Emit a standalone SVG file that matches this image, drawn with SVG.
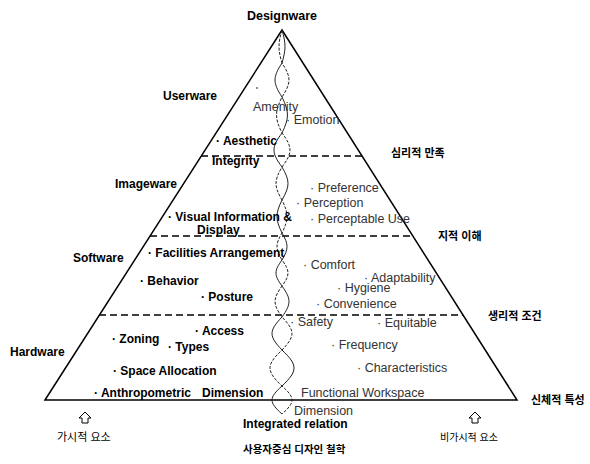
<svg xmlns="http://www.w3.org/2000/svg" width="590" height="464" viewBox="0 0 590 464">
<style>
text{font-family:"Liberation Sans","Noto Sans CJK KR",sans-serif;fill:#000}
.b{font-weight:bold;font-size:12px}
.r{font-size:12.5px;fill:#333}
.k{font-weight:bold;font-size:11px}
.kn{font-size:11px}
.edge{fill:none;stroke:#000;stroke-width:1.5}
.dash{fill:none;stroke:#000;stroke-width:1.4;stroke-dasharray:7,4}
.sa{fill:none;stroke:#222;stroke-width:1}
.sb{fill:none;stroke:#222;stroke-width:1;stroke-dasharray:3,1.5}
.arr{fill:#fff;stroke:#000;stroke-width:1}
</style>
<rect width="590" height="464" fill="#fff"/>
<g id="pyramid">
<path class="edge" d="M45,400 L282,30 L517,400 Z"/>
<line class="dash" x1="201" y1="156" x2="362" y2="156"/>
<line class="dash" x1="150" y1="236" x2="413" y2="236"/>
<line class="dash" x1="99" y1="315" x2="463" y2="315"/>
</g>
<g id="connectors">
<path class="sa" d="M282,30 C286,43.9 286,49.1 282,63 C272.7,77.3 272.7,82.7 282,97 C289.3,112.1 289.3,117.9 282,133 C271.3,147.3 271.3,152.7 282,167 C290,180.9 290,186.1 282,200 C275.3,213.9 275.3,219.1 282,233 C288.7,244.3 288.7,248.7 282,260 C274,270.9 274,275.1 282,286 C291.3,299 291.3,304 282,317 C268.7,330.9 268.7,336.1 282,350 C298,365.1 298,370.9 282,386 C268.7,397.8 268.7,402.2 282,414"/>
<path class="sb" d="M282,30 C278,43.9 278,49.1 282,63 C291.3,77.3 291.3,82.7 282,97 C274.7,112.1 274.7,117.9 282,133 C292.7,147.3 292.7,152.7 282,167 C274,180.9 274,186.1 282,200 C288.7,213.9 288.7,219.1 282,233 C275.3,244.3 275.3,248.7 282,260 C290,270.9 290,275.1 282,286 C272.7,299 272.7,304 282,317 C295.3,330.9 295.3,336.1 282,350 C266,365.1 266,370.9 282,386 C295.3,397.8 295.3,402.2 282,414"/>
<polygon class="arr" points="85,412 91,418 88,418 88,423 82,423 82,418 79,418"/>
<polygon class="arr" points="475,412 481,418 478,418 478,423 472,423 472,418 469,418"/>
</g>
<g id="designware"><text class="b" style="font-size:12.5px" x="282" y="20" text-anchor="middle">Designware</text></g>
<g id="userware">
<text class="b" x="163" y="100">Userware</text>
<circle cx="257" cy="88" r="0.8" fill="#000"/>
<text class="r" x="253" y="111">Amenity</text>
<text class="r" x="286" y="124">· Emotion</text>
<text class="b" x="216" y="145">· Aesthetic</text>
<text class="b" x="212" y="165">Integrity</text>
<text class="k" x="391" y="157">심리적 만족</text>
</g>
<g id="imageware">
<text class="b" x="115" y="188">Imageware</text>
<text class="r" x="310" y="192">· Preference</text>
<text class="r" x="296" y="207">· Perception</text>
<text class="r" x="310" y="223">· Perceptable Use</text>
<text class="b" x="168" y="221">· Visual Information &amp;</text>
<text class="b" x="197" y="234">Display</text>
<text class="k" x="438" y="240">지적 이해</text>
</g>
<g id="software">
<text class="b" x="73" y="262">Software</text>
<text class="b" x="148" y="257">· Facilities Arrangement</text>
<text class="b" x="140" y="285">· Behavior</text>
<text class="b" x="201" y="301">· Posture</text>
<text class="r" x="303" y="269">· Comfort</text>
<text class="r" x="364" y="282">· Adaptability</text>
<text class="r" x="337" y="292">· Hygiene</text>
<text class="r" x="316" y="308">· Convenience</text>
<text class="k" x="488" y="320">생리적 조건</text>
</g>
<g id="hardware">
<text class="b" x="10" y="356">Hardware</text>
<text class="b" x="195" y="335">· Access</text>
<text class="b" x="112" y="343">· Zoning</text>
<text class="b" x="168" y="351">· Types</text>
<text class="b" x="113" y="375">· Space Allocation</text>
<text class="b" x="94" y="397">· Anthropometric</text>
<text class="b" x="202" y="397">Dimension</text>
<text class="r" x="290" y="326">· Safety</text>
<text class="r" x="377" y="327">· Equitable</text>
<text class="r" x="331" y="349">· Frequency</text>
<text class="r" x="357" y="372">· Characteristics</text>
<text class="r" x="301" y="397">Functional Workspace</text>
<text class="r" x="294" y="415">Dimension</text>
<text class="k" x="531" y="404">신체적 특성</text>
</g>
<g id="bottom">
<text class="kn" x="57" y="441">가시적 요소</text>
<text class="kn" style="font-size:10px" x="440" y="441">비가시적 요소</text>
<text class="b" x="243" y="428">Integrated relation</text>
<text class="k" style="font-size:10.5px" x="243" y="453">사용자중심 디자인 철학</text>
</g>
</svg>
